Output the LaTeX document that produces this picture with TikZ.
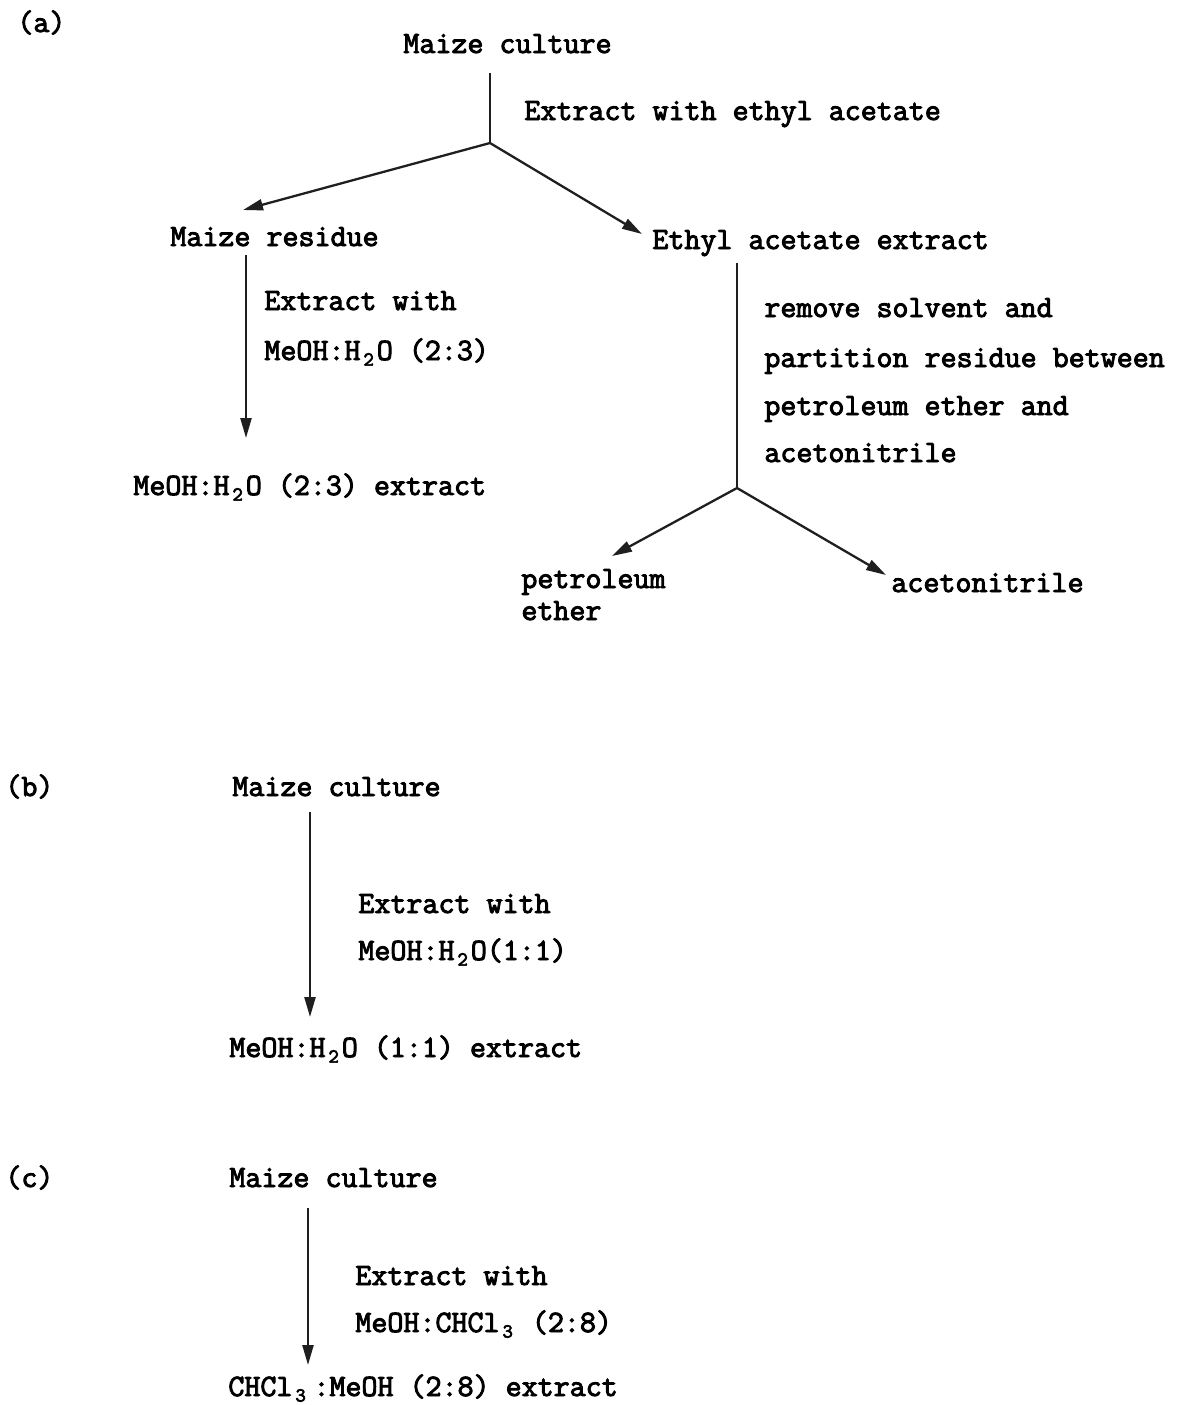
\documentclass[tikz,border=0pt]{standalone}
\usepackage{fontspec}
\newfontfamily\twf[AutoFakeBold=3]{Latin Modern Mono}
\usetikzlibrary{arrows.meta,calc}
\newcommand\sbs[1]{\makebox[0.525em][c]{\raisebox{-0.18em}{\fontsize{10}{10}\selectfont #1}}}
\begin{document}
\begin{tikzpicture}[x=0.5pt,y=-0.5pt,
  lbl/.style={anchor=base west,inner sep=0pt,font=\fontsize{15.55}{18}\twf\bfseries},
  conn/.style={line width=1.15pt,draw=black!88},
  arr/.style={conn,-{Triangle[length=10pt,width=5.5pt]}}]
\useasboundingbox (0,0) rectangle (1181,1405);
% ---------------- (a)
\node[lbl] (la) at (17,32) {(a)};
\node[lbl] (mcA) at (403,53) {Maize culture};
\node[lbl] (exA) at (524,120) {Extract with ethyl acetate};
\node[lbl] (mr) at (170,246) {Maize residue};
\node[lbl] (eae) at (652,249) {Ethyl acetate extract};
\node[lbl] (ex23a) at (264,310) {Extract with};
\node[lbl] (ex23b) at (264,360) {MeOH:H\sbs{2}O (2:3)};
\node[lbl] (m23) at (133,495) {MeOH:H\sbs{2}O (2:3) extract};
\node[lbl] (rs1) at (764,317) {remove solvent and};
\node[lbl] (rs2) at (764,367) {partition residue between};
\node[lbl] (rs3) at (764,415) {petroleum ether and};
\node[lbl] (rs4) at (764,462) {acetonitrile};
\node[lbl] (pe1) at (521,588) {petroleum};
\node[lbl] (pe2) at (521,620) {ether};
\node[lbl] (acn) at (891,592) {acetonitrile};
\coordinate (s1) at (490,143);
\coordinate (s2) at (737,488);
\draw[conn] ($(mcA.base west)+(87,20)$) -- (s1);
\draw[arr] (s1) -- ($(mr.base west)+(73,-36)$);
\draw[arr] (s1) -- ($(eae.base west)+(-10,-15)$);
\draw[arr] ($(mr.base west)+(76,9)$) -- ($(m23.base west)+(113,-57)$);
\draw[conn] ($(eae.base west)+(85,14)$) -- (s2);
\draw[arr] (s2) -- ($(pe1.base west)+(91,-32)$);
\draw[arr] (s2) -- ($(acn.base west)+(-5,-17)$);
% ---------------- (b)
\node[lbl] (lb) at (5,796) {(b)};
\node[lbl] (mcB) at (232,796) {Maize culture};
\node[lbl] (ex11a) at (358,913) {Extract with};
\node[lbl] (ex11b) at (358,960) {MeOH:H\sbs{2}O(1:1)};
\node[lbl] (m11) at (229,1057) {MeOH:H\sbs{2}O (1:1) extract};
\draw[arr] ($(mcB.base west)+(78,16)$) -- ($(m11.base west)+(81,-40)$);
% ---------------- (c)
\node[lbl] (lc) at (5,1187) {(c)};
\node[lbl] (mcC) at (229,1187) {Maize culture};
\node[lbl] (ex28a) at (355,1285) {Extract with};
\node[lbl] (ex28b) at (355,1332) {MeOH:CHCl\sbs{3} (2:8)};
\node[lbl] (c28) at (228,1396) {CHCl\sbs{3}\kern0.15em:MeOH (2:8) extract};
\draw[arr] ($(mcC.base west)+(79,21)$) -- ($(c28.base west)+(80,-31)$);
\end{tikzpicture}
\end{document}
